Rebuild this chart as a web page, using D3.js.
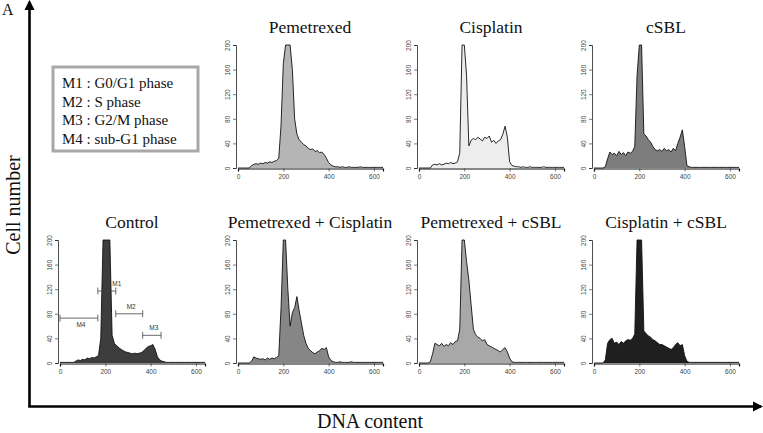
<!DOCTYPE html>
<html>
<head>
<meta charset="utf-8">
<script src="https://cdn.jsdelivr.net/npm/d3@7"></script>
<style>
  html, body { margin: 0; padding: 0; background: #fff; }
  svg { display: block; }
</style>
</head>
<body>
<div id="chart"></div>
<script>
// DNA bins, 0..640 step 10
const BINS = d3.range(0, 641, 10)

const TITLES = ["Pemetrexed", "Cisplatin", "cSBL", "Control",
  "Pemetrexed + Cisplatin", "Pemetrexed + cSBL", "Cisplatin + cSBL"]

const pemetrexed = [0,0,0,0,0,0,4,6,7,6,8,7,9,8,10,9,11,12,16,70,170,260,300,250,160,80,55,46,42,38,36,32,30,31,27,28,25,26,22,16,9,5,3,2,2,1,2,1,1,2,1,1,1,1,2,1,1,1,1,1,1,1,1,1,1]
const cisplatin = [0,0,0,0,0,0,5,6,5,7,5,6,8,7,9,7,8,10,25,240,260,150,36,45,48,46,50,47,44,50,48,52,42,45,40,44,46,55,68,50,10,4,3,2,2,1,2,1,1,2,1,1,1,1,1,2,1,1,1,1,1,1,1,1,1]
const csbl = [0,0,0,0,0,2,15,26,22,24,20,27,22,25,20,26,24,27,35,150,280,230,55,52,46,42,35,30,28,30,27,32,28,30,26,32,28,40,50,62,35,4,2,1,1,1,1,1,1,1,1,1,1,1,1,1,1,1,1,1,1,1,1,1,1]
const control = [1,1,1,1,1,1,1,3,5,4,6,5,8,7,9,8,10,12,40,210,320,300,200,45,32,28,25,22,20,18,17,16,15,16,15,16,17,20,24,27,28,30,22,10,5,3,2,1,1,1,1,1,1,1,1,1,1,1,1,1,1,1,1,1,1]
const pemCis = [0,0,0,0,0,0,3,10,8,7,6,7,5,8,6,8,7,9,12,90,260,250,120,60,82,90,108,85,65,45,32,24,20,17,15,18,20,24,22,25,10,4,2,1,1,2,1,1,1,1,2,1,1,1,1,1,1,1,1,1,1,1,1,1,1]
const pemCsbl = [0,0,0,0,0,2,15,32,30,28,32,27,30,28,33,30,35,36,55,200,230,165,135,95,55,46,42,40,36,38,30,28,26,24,22,20,18,22,25,18,8,2,1,1,1,1,1,1,1,1,1,1,1,1,1,1,1,1,1,1,1,1,1,1,1]
const cisCsbl = [0,0,0,0,0,5,32,38,40,32,34,30,35,32,36,38,37,40,47,230,300,210,52,48,44,42,38,36,33,30,30,28,26,24,22,25,30,33,28,30,12,3,1,1,1,1,1,1,1,1,1,1,1,1,1,1,1,1,1,1,1,1,1,1,1]

const SERIES = [pemetrexed, cisplatin, csbl, control, pemCis, pemCsbl, cisCsbl]
const FILLS = ["#b5b5b5", "#ededed", "#7d7d7d", "#3d3d3d", "#868686", "#a8a8a8", "#1f1f1f"]

const Y_TICKS = [0, 40, 80, 120, 160, 200]
const X_TICKS = [0, 200, 400, 600]

const LEGEND = ["M1 : G0/G1 phase", "M2 : S phase", "M3 : G2/M phase", "M4 : sub-G1 phase"]

// control gates: [label, from, to, level]
const GATES = [
  ["M1", 167, 246, 117],
  ["M2", 246, 365, 80],
  ["M3", 365, 446, 45],
  ["M4", 0, 167, 73]
]

const W = 763, H = 433
const svg = d3.select("#chart").append("svg")
  .attr("width", W).attr("height", H)

// panel slots: [col, row]
const SLOTS = [[1, 0], [2, 0], [3, 0], [0, 1], [1, 1], [2, 1], [3, 1]]
const colX = [60, 238, 419, 594]
const rowTop = [45, 240]
const plotW = 145
const plotH = 123

const serif = "'Liberation Serif', 'Times New Roman', serif"
const sans = "'Liberation Sans', Arial, sans-serif"

SERIES.forEach((values, i) => {
  const [c, r] = SLOTS[i]
  const x0 = colX[c]
  const top = rowTop[r]
  const g = svg.append("g").attr("transform", `translate(${x0},${top})`)

  const x = d3.scaleLinear().domain([0, 640]).range([0, plotW])
  const y = d3.scaleLinear().domain([0, 200]).range([plotH, 0]).clamp(true)

  const pts = BINS.map((b, k) => [b, values[k]])
  const area = d3.area()
    .x(d => x(d[0]))
    .y0(y(0))
    .y1(d => y(d[1]))
  const line = d3.line()
    .x(d => x(d[0]))
    .y(d => y(d[1]))

  g.append("path")
    .attr("d", area(pts))
    .attr("fill", FILLS[i])
  g.append("path")
    .attr("d", line(pts))
    .attr("fill", "none")
    .attr("stroke", "#111")
    .attr("stroke-width", 0.9)

  // y axis, labels rotated
  const yAx = g.append("g").attr("transform", "translate(-2,0)")
  yAx.call(d3.axisLeft(y).tickValues(d3.range(0, 201, 10)).tickSize(1.5).tickFormat(""))
  yAx.call(d3.axisLeft(y).tickValues(Y_TICKS).tickSize(3).tickFormat(d3.format("d")))
  yAx.selectAll("path.domain").attr("stroke", "#222").attr("stroke-width", 0.8)
  yAx.selectAll("line").attr("stroke", "#222").attr("stroke-width", 0.6)
  yAx.selectAll(".tick text")
    .attr("font-family", sans)
    .attr("font-size", 6.5)
    .attr("fill", "#444")
    .attr("text-anchor", "middle")
    .attr("x", 0).attr("y", 0).attr("dy", 0)
    .attr("transform", "translate(-6,0) rotate(-90)")

  // x axis
  const xAx = g.append("g").attr("transform", `translate(0,${plotH + 0.5})`)
  xAx.call(d3.axisBottom(x).tickValues(d3.range(0, 641, 50)).tickSize(1.5).tickFormat(""))
  xAx.call(d3.axisBottom(x).tickValues(X_TICKS).tickSize(3).tickFormat(d3.format("d")))
  xAx.selectAll("path.domain").attr("stroke", "#111").attr("stroke-width", 1.2)
  xAx.selectAll("line").attr("stroke", "#222").attr("stroke-width", 0.6)
  xAx.selectAll("text")
    .attr("font-family", sans)
    .attr("font-size", 6.5)
    .attr("fill", "#444")
    .attr("y", 6)

  // title
  svg.append("text")
    .attr("x", x0 + 72)
    .attr("y", top - 12)
    .attr("text-anchor", "middle")
    .attr("font-family", serif)
    .attr("font-size", 17.5)
    .attr("fill", "#111")
    .text(TITLES[i])

  // gates on the control panel
  if (TITLES[i] === "Control") {
    const gg = g.append("g")
    GATES.forEach(([lab, a, b, lv]) => {
      const yy = y(lv)
      gg.append("line").attr("x1", x(a)).attr("x2", x(b)).attr("y1", yy).attr("y2", yy)
      gg.append("line").attr("x1", x(a)).attr("x2", x(a)).attr("y1", yy - 3.5).attr("y2", yy + 3.5)
      gg.append("line").attr("x1", x(b)).attr("x2", x(b)).attr("y1", yy - 3.5).attr("y2", yy + 3.5)
      const below = lab === "M4"
      gg.append("text")
        .attr("x", lab === "M1" ? x(b) + 1 : x((a + b) / 2) + 2)
        .attr("y", below ? yy + 9 : yy - 5)
        .attr("text-anchor", "middle")
        .attr("font-family", sans)
        .attr("font-size", 6.5)
        .attr("fill", "#333")
        .text(lab)
    })
    gg.selectAll("line").attr("stroke", "#444").attr("stroke-width", 0.8)
  }
})

// legend box
svg.append("rect")
  .attr("x", 53).attr("y", 67)
  .attr("width", 145).attr("height", 84)
  .attr("fill", "#fff")
  .attr("stroke", "#a8a8a8")
  .attr("stroke-width", 3)
LEGEND.forEach((t, k) => {
  svg.append("text")
    .attr("x", 62)
    .attr("y", 88 + k * 18.5)
    .attr("font-family", serif)
    .attr("font-size", 15)
    .attr("fill", "#111")
    .text(t)
})

// big axes with arrows
svg.append("defs").append("marker")
  .attr("id", "arr")
  .attr("viewBox", "0 0 10 10")
  .attr("refX", 8).attr("refY", 5)
  .attr("markerWidth", 4).attr("markerHeight", 4)
  .attr("orient", "auto")
  .append("path")
  .attr("d", "M0,0 L10,5 L0,10 Z")
  .attr("fill", "#000")

svg.append("line")
  .attr("x1", 29.5).attr("y1", 406.5)
  .attr("x2", 29.5).attr("y2", 2)
  .attr("stroke", "#000").attr("stroke-width", 2.6)
  .attr("marker-end", "url(#arr)")
svg.append("line")
  .attr("x1", 28.2).attr("y1", 406.5)
  .attr("x2", 761).attr("y2", 406.5)
  .attr("stroke", "#000").attr("stroke-width", 2.6)
  .attr("marker-end", "url(#arr)")

svg.append("text")
  .attr("x", 2).attr("y", 15)
  .attr("font-family", serif).attr("font-size", 16)
  .attr("fill", "#111")
  .text("A")

svg.append("text")
  .attr("transform", "translate(20,205) rotate(-90)")
  .attr("text-anchor", "middle")
  .attr("font-family", serif).attr("font-size", 20)
  .attr("fill", "#111")
  .text("Cell number")

svg.append("text")
  .attr("x", 370).attr("y", 428)
  .attr("text-anchor", "middle")
  .attr("font-family", serif).attr("font-size", 20)
  .attr("fill", "#111")
  .text("DNA content")
</script>
</body>
</html>
